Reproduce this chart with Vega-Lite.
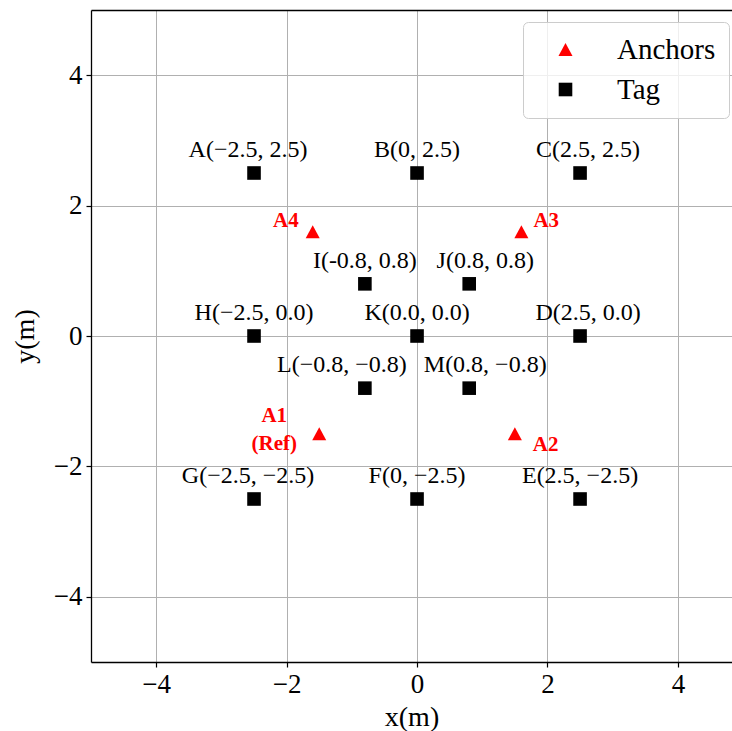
{
  "$schema": "https://vega.github.io/schema/vega-lite/v6.json",
  "width": 641,
  "height": 652,
  "autosize": "none",
  "padding": {"left": 91, "top": 10, "right": 0, "bottom": 69},
  "background": "white",
  "config": {
    "font": "Liberation Serif",
    "view": {"stroke": null},
    "text": {"font": "Liberation Serif"},
    "axis": {
      "zindex": 1,
      "domainColor": "#000000",
      "domainWidth": 1.3,
      "tickColor": "#000000",
      "tickWidth": 1.2,
      "tickSize": 5,
      "labelFont": "Liberation Serif",
      "labelFontSize": 27,
      "labelColor": "#000000",
      "labelPadding": 4,
      "titleFont": "Liberation Serif",
      "titleFontSize": 28,
      "titleFontWeight": "normal",
      "titleColor": "#000000",
      "gridColor": "#b0b0b0",
      "gridWidth": 1
    }
  },
  "datasets": {
    "pts": [
      {"type": "Tag", "name": "A", "x": -2.5, "y": 2.5, "label": "A(−2.5, 2.5)"},
      {"type": "Tag", "name": "B", "x": 0, "y": 2.5, "label": "B(0, 2.5)"},
      {"type": "Tag", "name": "C", "x": 2.5, "y": 2.5, "label": "C(2.5, 2.5)"},
      {"type": "Tag", "name": "D", "x": 2.5, "y": 0, "label": "D(2.5, 0.0)"},
      {"type": "Tag", "name": "E", "x": 2.5, "y": -2.5, "label": "E(2.5, −2.5)"},
      {"type": "Tag", "name": "F", "x": 0, "y": -2.5, "label": "F(0, −2.5)"},
      {"type": "Tag", "name": "G", "x": -2.5, "y": -2.5, "label": "G(−2.5, −2.5)"},
      {"type": "Tag", "name": "H", "x": -2.5, "y": 0, "label": "H(−2.5, 0.0)"},
      {"type": "Tag", "name": "I", "x": -0.8, "y": 0.8, "label": "I(-0.8, 0.8)"},
      {"type": "Tag", "name": "J", "x": 0.8, "y": 0.8, "label": "J(0.8, 0.8)"},
      {"type": "Tag", "name": "K", "x": 0, "y": 0, "label": "K(0.0, 0.0)"},
      {"type": "Tag", "name": "L", "x": -0.8, "y": -0.8, "label": "L(−0.8, −0.8)"},
      {"type": "Tag", "name": "M", "x": 0.8, "y": -0.8, "label": "M(0.8, −0.8)"},
      {"type": "Anchors", "name": "A1", "x": -1.5, "y": -1.5, "label": "A1\n(Ref)"},
      {"type": "Anchors", "name": "A2", "x": 1.5, "y": -1.5, "label": "A2"},
      {"type": "Anchors", "name": "A3", "x": 1.6, "y": 1.6, "label": "A3"},
      {"type": "Anchors", "name": "A4", "x": -1.6, "y": 1.6, "label": "A4"}
    ]
  },
  "data": {"name": "pts"},
  "layer": [
    {
      "mark": {"type": "point", "filled": true, "opacity": 1, "size": 185, "strokeWidth": 0},
      "encoding": {
        "x": {
          "field": "x", "type": "quantitative",
          "scale": {"domain": [-5, 4.83], "nice": false, "zero": false},
          "axis": {"orient": "bottom", "values": [-4, -2, 0, 2, 4], "format": "d", "title": "x(m)", "titlePadding": 6, "grid": true}
        },
        "y": {
          "field": "y", "type": "quantitative",
          "scale": {"domain": [-5, 5], "nice": false, "zero": false},
          "axis": {"orient": "left", "values": [-4, -2, 0, 2, 4], "format": "d", "title": "y(m)", "titlePadding": 14, "grid": true}
        },
        "color": {
          "field": "type", "type": "nominal",
          "scale": {"domain": ["Anchors", "Tag"], "range": ["#ff0000", "#000000"]},
          "legend": {
            "title": null, "orient": "none", "legendX": 432, "legendY": 12,
            "padding": 13, "symbolOffset": 15, "labelOffset": 37,
            "labelFont": "Liberation Serif", "labelFontSize": 29, "labelColor": "#000000",
            "rowPadding": 10, "cornerRadius": 5, "strokeColor": "#cccccc",
            "fillColor": "rgba(255,255,255,0.8)", "symbolSize": 185, "symbolStrokeWidth": 0,
            "zindex": 2
          }
        },
        "shape": {
          "field": "type", "type": "nominal",
          "scale": {"domain": ["Anchors", "Tag"], "range": ["M0,-0.95L1.03,0.95L-1.03,0.95Z", "square"]},
          "legend": {
            "title": null, "orient": "none", "legendX": 432, "legendY": 12,
            "padding": 13, "symbolOffset": 15, "labelOffset": 37,
            "labelFont": "Liberation Serif", "labelFontSize": 29, "labelColor": "#000000",
            "rowPadding": 10, "cornerRadius": 5, "strokeColor": "#cccccc",
            "fillColor": "rgba(255,255,255,0.8)", "symbolSize": 185, "symbolStrokeWidth": 0,
            "zindex": 2
          }
        }
      }
    },
    {
      "transform": [{"filter": "indexof(['B','F','H','K','I','E'], datum.name) >= 0"}],
      "mark": {"type": "text", "fontSize": 24, "color": "#000000", "align": "center", "baseline": "alphabetic", "dy": -16},
      "encoding": {
        "x": {"field": "x", "type": "quantitative", "axis": {"orient": "top", "labels": false, "ticks": false, "grid": false, "domain": true, "title": null}},
        "y": {"field": "y", "type": "quantitative"},
        "text": {"field": "label"}
      }
    },
    {
      "transform": [{"filter": "indexof(['A','G'], datum.name) >= 0"}],
      "mark": {"type": "text", "fontSize": 24, "color": "#000000", "align": "center", "baseline": "alphabetic", "dx": -6, "dy": -16},
      "encoding": {
        "x": {"field": "x", "type": "quantitative", "axis": null},
        "y": {"field": "y", "type": "quantitative"},
        "text": {"field": "label"}
      }
    },
    {
      "transform": [{"filter": "indexof(['C','D'], datum.name) >= 0"}],
      "mark": {"type": "text", "fontSize": 24, "color": "#000000", "align": "center", "baseline": "alphabetic", "dx": 8, "dy": -16},
      "encoding": {
        "x": {"field": "x", "type": "quantitative", "axis": null},
        "y": {"field": "y", "type": "quantitative"},
        "text": {"field": "label"}
      }
    },
    {
      "transform": [{"filter": "indexof(['J','M'], datum.name) >= 0"}],
      "mark": {"type": "text", "fontSize": 24, "color": "#000000", "align": "center", "baseline": "alphabetic", "dx": 16, "dy": -16},
      "encoding": {
        "x": {"field": "x", "type": "quantitative", "axis": null},
        "y": {"field": "y", "type": "quantitative"},
        "text": {"field": "label"}
      }
    },
    {
      "transform": [{"filter": "datum.name == 'L'"}],
      "mark": {"type": "text", "fontSize": 24, "color": "#000000", "align": "center", "baseline": "alphabetic", "dx": -23, "dy": -16},
      "encoding": {
        "x": {"field": "x", "type": "quantitative", "axis": null},
        "y": {"field": "y", "type": "quantitative"},
        "text": {"field": "label"}
      }
    },
    {
      "transform": [{"filter": "datum.name == 'A4'"}],
      "mark": {"type": "text", "fontSize": 21, "fontWeight": "bold", "color": "#ff0000", "align": "right", "baseline": "alphabetic", "dx": -14, "dy": -5},
      "encoding": {
        "x": {"field": "x", "type": "quantitative", "axis": null},
        "y": {"field": "y", "type": "quantitative"},
        "text": {"field": "label"}
      }
    },
    {
      "transform": [{"filter": "datum.name == 'A3'"}],
      "mark": {"type": "text", "fontSize": 21, "fontWeight": "bold", "color": "#ff0000", "align": "left", "baseline": "alphabetic", "dx": 12, "dy": -5},
      "encoding": {
        "x": {"field": "x", "type": "quantitative", "axis": null},
        "y": {"field": "y", "type": "quantitative"},
        "text": {"field": "label"}
      }
    },
    {
      "transform": [{"filter": "datum.name == 'A2'"}],
      "mark": {"type": "text", "fontSize": 21, "fontWeight": "bold", "color": "#ff0000", "align": "left", "baseline": "alphabetic", "dx": 18, "dy": 17},
      "encoding": {
        "x": {"field": "x", "type": "quantitative", "axis": null},
        "y": {"field": "y", "type": "quantitative"},
        "text": {"field": "label"}
      }
    },
    {
      "transform": [{"filter": "datum.name == 'A1'"}],
      "mark": {"type": "text", "fontSize": 21, "fontWeight": "bold", "color": "#ff0000", "align": "center", "baseline": "alphabetic", "lineBreak": "\n", "lineHeight": 28, "dx": -45, "dy": -12},
      "encoding": {
        "x": {"field": "x", "type": "quantitative", "axis": null},
        "y": {"field": "y", "type": "quantitative"},
        "text": {"field": "label"}
      }
    }
  ],
  "resolve": {"axis": {"x": "independent"}}
}
